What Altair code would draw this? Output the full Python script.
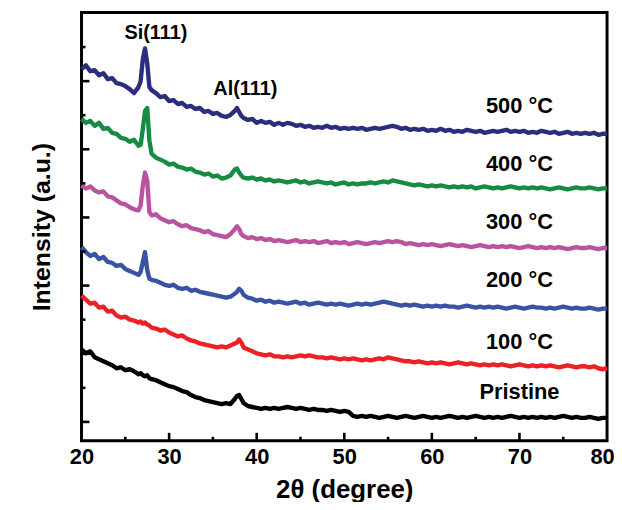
import altair as alt
import pandas as pd

# 2-theta sampling positions (degree)
X_DEG = [20.0, 20.5, 21.0, 21.5, 22.0, 22.5, 23.0, 23.5, 24.0, 24.5, 25.0, 25.5, 26.0, 26.5,
         26.75, 27.0, 27.25, 27.5, 27.75, 28.0,
         28.5, 29.0, 29.5, 30.0, 30.5, 31.0, 31.5, 32.0, 32.5, 33.0, 33.5, 34.0, 34.5, 35.0, 35.5, 36.0, 36.5, 37.0, 37.5,
         37.75, 38.0, 38.25,
         38.5, 39.0, 39.5, 40.0, 40.5, 41.0, 41.5, 42.0,
         42.5, 43.0, 43.5, 44.0, 44.5, 45.0, 45.5, 46.0, 46.5, 47.0,
         47.5, 48.0, 48.5, 49.0, 49.5, 50.0, 50.5, 51.0, 51.5, 52.0,
         52.5, 53.0, 53.5, 54.0, 54.5, 55.0, 55.5, 56.0, 56.5, 57.0,
         57.5, 58.0, 58.5, 59.0, 59.5, 60.0, 60.5, 61.0, 61.5, 62.0,
         62.5, 63.0, 63.5, 64.0, 64.5, 65.0, 65.5, 66.0, 66.5, 67.0,
         67.5, 68.0, 68.5, 69.0, 69.5, 70.0, 70.5, 71.0, 71.5, 72.0,
         72.5, 73.0, 73.5, 74.0, 74.5, 75.0, 75.5, 76.0, 76.5, 77.0,
         77.5, 78.0, 78.5, 79.0, 79.5, 80.0]

# Intensity (a.u., stacked as in the figure)
I_500 = [374, 378, 372, 373, 368, 370, 364, 365, 360, 359, 357, 354, 350, 356,
         362, 384, 395, 380, 356, 353,
         350, 346, 347, 342, 343, 339, 340, 336, 337, 334, 335, 331, 332, 329, 330, 327, 326, 328, 332,
         335, 331, 327,
         325, 323, 324, 320, 322, 320, 321, 318,
         320, 318, 320, 319, 317, 318, 316, 317, 315, 316,
         315, 317, 315, 316, 314, 315, 314, 315, 314, 315,
         313, 314, 315, 314, 315, 316, 317, 316, 314, 315,
         313, 314, 313, 314, 312, 313, 312, 314, 312, 313,
         311, 312, 311, 313, 312, 311, 312, 310, 311, 312,
         311, 312, 313, 311, 312, 311, 312, 310, 311, 310,
         312, 311, 310, 311, 309, 310, 311, 309, 310, 309,
         310, 309, 310, 308, 309, 309]

I_400 = [324, 320, 322, 317, 320, 314, 315, 310, 309, 305, 304, 301, 303, 297,
         298, 314, 332, 335, 302, 289,
         285, 283, 281, 278, 279, 276, 275, 273, 274, 271, 270, 268, 269, 266, 267, 264, 265, 267, 273,
         274, 270, 267,
         265, 264, 265, 263, 264, 262, 263, 261,
         262, 261, 260, 261, 262, 260, 261, 259, 260, 261,
         260, 259, 260, 258, 259, 260, 258, 259, 258, 259,
         259, 260, 259, 260, 261, 260, 262, 261, 260, 259,
         258, 257, 258, 257, 256, 257, 256, 257, 256, 255,
         256, 255, 256, 255, 256, 254, 255, 256, 255, 254,
         255, 254, 255, 256, 255, 254, 255, 254, 255, 254,
         255, 254, 253, 254, 255, 254, 253, 254, 255, 254,
         254, 255, 254, 253, 254, 254]

I_300 = [257, 254, 256, 252, 250, 251, 246, 245, 242, 239, 238, 235, 233, 232,
         237, 257, 270, 262, 230, 227,
         228, 224, 222, 220, 221, 218, 216, 217, 214, 213, 212, 210, 211, 208, 207, 206, 205, 208, 213,
         216, 213, 208,
         206, 204, 205, 203, 204, 202, 203, 201,
         202, 201, 200, 201, 202, 200, 201, 200, 201, 199,
         200, 201, 199, 200, 199, 200, 198, 199, 200, 199,
         198, 199, 200, 199, 200, 201, 200, 201, 200, 198,
         199, 198, 197, 198, 197, 198, 197, 196, 197, 198,
         197, 196, 197, 196, 195, 196, 197, 196, 195, 196,
         195, 196, 195, 196, 195, 194, 195, 196, 195, 194,
         195, 194, 195, 194, 195, 194, 193, 194, 195, 194,
         194, 195, 194, 193, 194, 194]

I_200 = [195, 190, 186, 188, 183, 185, 180, 179, 176, 177, 173, 171, 169, 167,
         170, 180, 190, 172, 163, 162,
         161, 159, 157, 156, 157, 154, 153, 154, 151, 152, 150, 149, 148, 147, 146, 145, 144, 145, 148,
         150, 153, 151,
         147, 144, 143, 141, 142, 140, 141, 139,
         140, 139, 138, 139, 140, 138, 139, 137, 138, 139,
         138, 137, 138, 137, 138, 137, 136, 137, 138, 137,
         138, 137, 138, 139, 140, 139, 138, 137, 136, 137,
         136, 137, 136, 135, 136, 135, 136, 135, 136, 135,
         135, 134, 135, 136, 135, 134, 135, 134, 135, 134,
         135, 134, 133, 134, 135, 134, 133, 134, 135, 134,
         134, 133, 134, 133, 134, 135, 134, 133, 134, 133,
         133, 134, 133, 132, 133, 133]

I_100 = [146, 142, 138, 139, 134, 135, 130, 131, 126, 124, 125, 122, 121, 119,
         120, 118, 119, 117, 116, 114,
         113, 111, 112, 109, 107, 105, 106, 103, 101, 100, 98, 97, 96, 95, 94, 95, 94, 96, 98,
         99, 102, 99,
         94, 92, 90, 88, 87, 86, 87, 85,
         85, 84, 85, 84, 85, 86, 85, 86, 85, 84,
         84, 83, 84, 83, 82, 83, 82, 83, 82, 81,
         82, 81, 82, 83, 82, 84, 83, 82, 81, 80,
         80, 79, 80, 79, 78, 79, 78, 79, 78, 77,
         78, 79, 78, 77, 78, 77, 76, 77, 76, 77,
         76, 77, 76, 75, 76, 77, 76, 75, 76, 75,
         76, 75, 76, 75, 74, 75, 76, 75, 74, 75,
         75, 74, 75, 73, 72, 73]

I_PRISTINE = [92, 88, 90, 84, 82, 80, 78, 76, 73, 74, 71, 72, 70, 67,
              68, 66, 65, 66, 63, 62,
              61, 59, 57, 55, 54, 52, 50, 49, 46, 44, 43, 41, 40, 39, 38, 37, 38, 37, 42,
              45, 46, 42,
              38, 35, 34, 33, 32, 33, 32, 33,
              32, 33, 34, 33, 32, 33, 32, 31, 32, 31,
              31, 30, 31, 30, 29, 30, 29, 25, 24, 25,
              24, 25, 24, 23, 24, 25, 24, 23, 24, 25,
              24, 23, 24, 25, 24, 23, 24, 23, 24, 25,
              24, 23, 24, 23, 24, 25, 24, 23, 24, 23,
              24, 23, 24, 25, 24, 23, 24, 23, 24, 23,
              24, 23, 24, 23, 24, 25, 24, 23, 24, 23,
              23, 24, 23, 22, 23, 23]

SERIES_NAMES = ["500 °C", "400 °C", "300 °C", "200 °C", "100 °C", "Pristine"]
SERIES_VALUES = [I_500, I_400, I_300, I_200, I_100, I_PRISTINE]
SERIES_COLORS = ["#2B2E7C", "#178A43", "#B9529F", "#3853A4", "#EC2027", "#000000"]

X_TICKS_MAJOR = [30, 40, 50, 60, 70]
X_TICKS_MINOR = [25, 35, 45, 55, 65, 75]
Y_TICKS_MAJOR = [19, 87.6, 156.2, 224.8, 293.4, 362]
Y_TICKS_MINOR = [53.3, 121.9, 190.5, 259.1, 327.7, 396.3]

PEAK_LABELS = ["Si(111)", "Al(111)"]
PEAK_X = [28.5, 38.7]
PEAK_Y = [410, 354]

TEMP_LABELS = ["500 °C", "400 °C", "300 °C", "200 °C", "100 °C", "Pristine"]
TEMP_X = [70, 70, 70, 70, 70, 70]
TEMP_Y = [337, 279, 220, 162, 99, 49]

rows = []
for name, vals in zip(SERIES_NAMES, SERIES_VALUES):
    n = min(len(vals), len(X_DEG))
    for i in range(n):
        rows.append({"theta": X_DEG[i], "intensity": vals[i], "series": name})
df = pd.DataFrame(rows)

FONT = "Liberation Sans"
W, H = 529, 431
xscale = alt.Scale(domain=[20, 80], nice=False, zero=False)
yscale = alt.Scale(domain=[0, 431], nice=False, zero=False)

X_AXIS = alt.Axis(title="2θ (degree)", values=[20, 30, 40, 50, 60, 70, 80],
                  format="d", ticks=False, domain=False, grid=False,
                  labelPadding=6, titlePadding=9, labelFontSize=22,
                  titleFontSize=26, labelFont=FONT, titleFont=FONT,
                  labelFontWeight="bold", titleFontWeight="bold",
                  labelColor="black", titleColor="black", labelFlush=False,
                  labelOffset={"condition": {"test": "datum.value == 80", "value": -5},
                               "value": 0})
Y_AXIS = alt.Axis(title="Intensity (a.u.)", labels=False, ticks=False,
                  domain=False, grid=False, titlePadding=27,
                  titleFontSize=25, titleFont=FONT, titleFontWeight="bold",
                  titleColor="black")


def X(field):
    return alt.X(field, scale=xscale, axis=X_AXIS, title="2θ (degree)")


def Y(field):
    return alt.Y(field, scale=yscale, axis=Y_AXIS, title="Intensity (a.u.)")


lines = alt.Chart(df).mark_line(strokeWidth=4.4, strokeJoin="round").encode(
    x=X("theta:Q"),
    y=Y("intensity:Q"),
    color=alt.Color("series:N", scale=alt.Scale(domain=SERIES_NAMES, range=SERIES_COLORS),
                    legend=None),
    detail="series:N",
)


def xtick_layer(vals, length):
    d = pd.DataFrame({"theta": vals})
    return alt.Chart(d).mark_rule(color="black", strokeWidth=2.6).encode(
        x=X("theta:Q"),
        y=alt.value(H),
        y2=alt.value(H - length),
    )


def ytick_layer(vals, length):
    d = pd.DataFrame({"intensity": vals})
    return alt.Chart(d).mark_rule(color="black", strokeWidth=2.6).encode(
        y=Y("intensity:Q"),
        x=alt.value(0),
        x2=alt.value(length),
    )


peak_df = pd.DataFrame({"label": PEAK_LABELS, "theta": PEAK_X, "intensity": PEAK_Y})
temp_df = pd.DataFrame({"label": TEMP_LABELS, "theta": TEMP_X, "intensity": TEMP_Y})

peak_text = alt.Chart(peak_df).mark_text(font=FONT, fontSize=20, fontWeight="bold",
                                         color="black", align="center", baseline="middle").encode(
    x=X("theta:Q"), y=Y("intensity:Q"), text="label:N",
)
temp_text = alt.Chart(temp_df).mark_text(font=FONT, fontSize=22, fontWeight="bold",
                                         color="black", align="center", baseline="middle").encode(
    x=X("theta:Q"), y=Y("intensity:Q"), text="label:N",
)

chart = alt.layer(
    lines,
    xtick_layer(X_TICKS_MAJOR, 8), xtick_layer(X_TICKS_MINOR, 4),
    ytick_layer(Y_TICKS_MAJOR, 8), ytick_layer(Y_TICKS_MINOR, 4),
    peak_text, temp_text,
).properties(
    width=W, height=H,
    autosize=alt.AutoSizeParams(type="none"),
    padding={"left": 74, "top": 3, "right": 7, "bottom": 60},
).configure(
    background="white"
).configure_view(
    stroke="black", strokeWidth=3
)

chart.save("out.html", embed_options={"renderer": "svg", "actions": False})
